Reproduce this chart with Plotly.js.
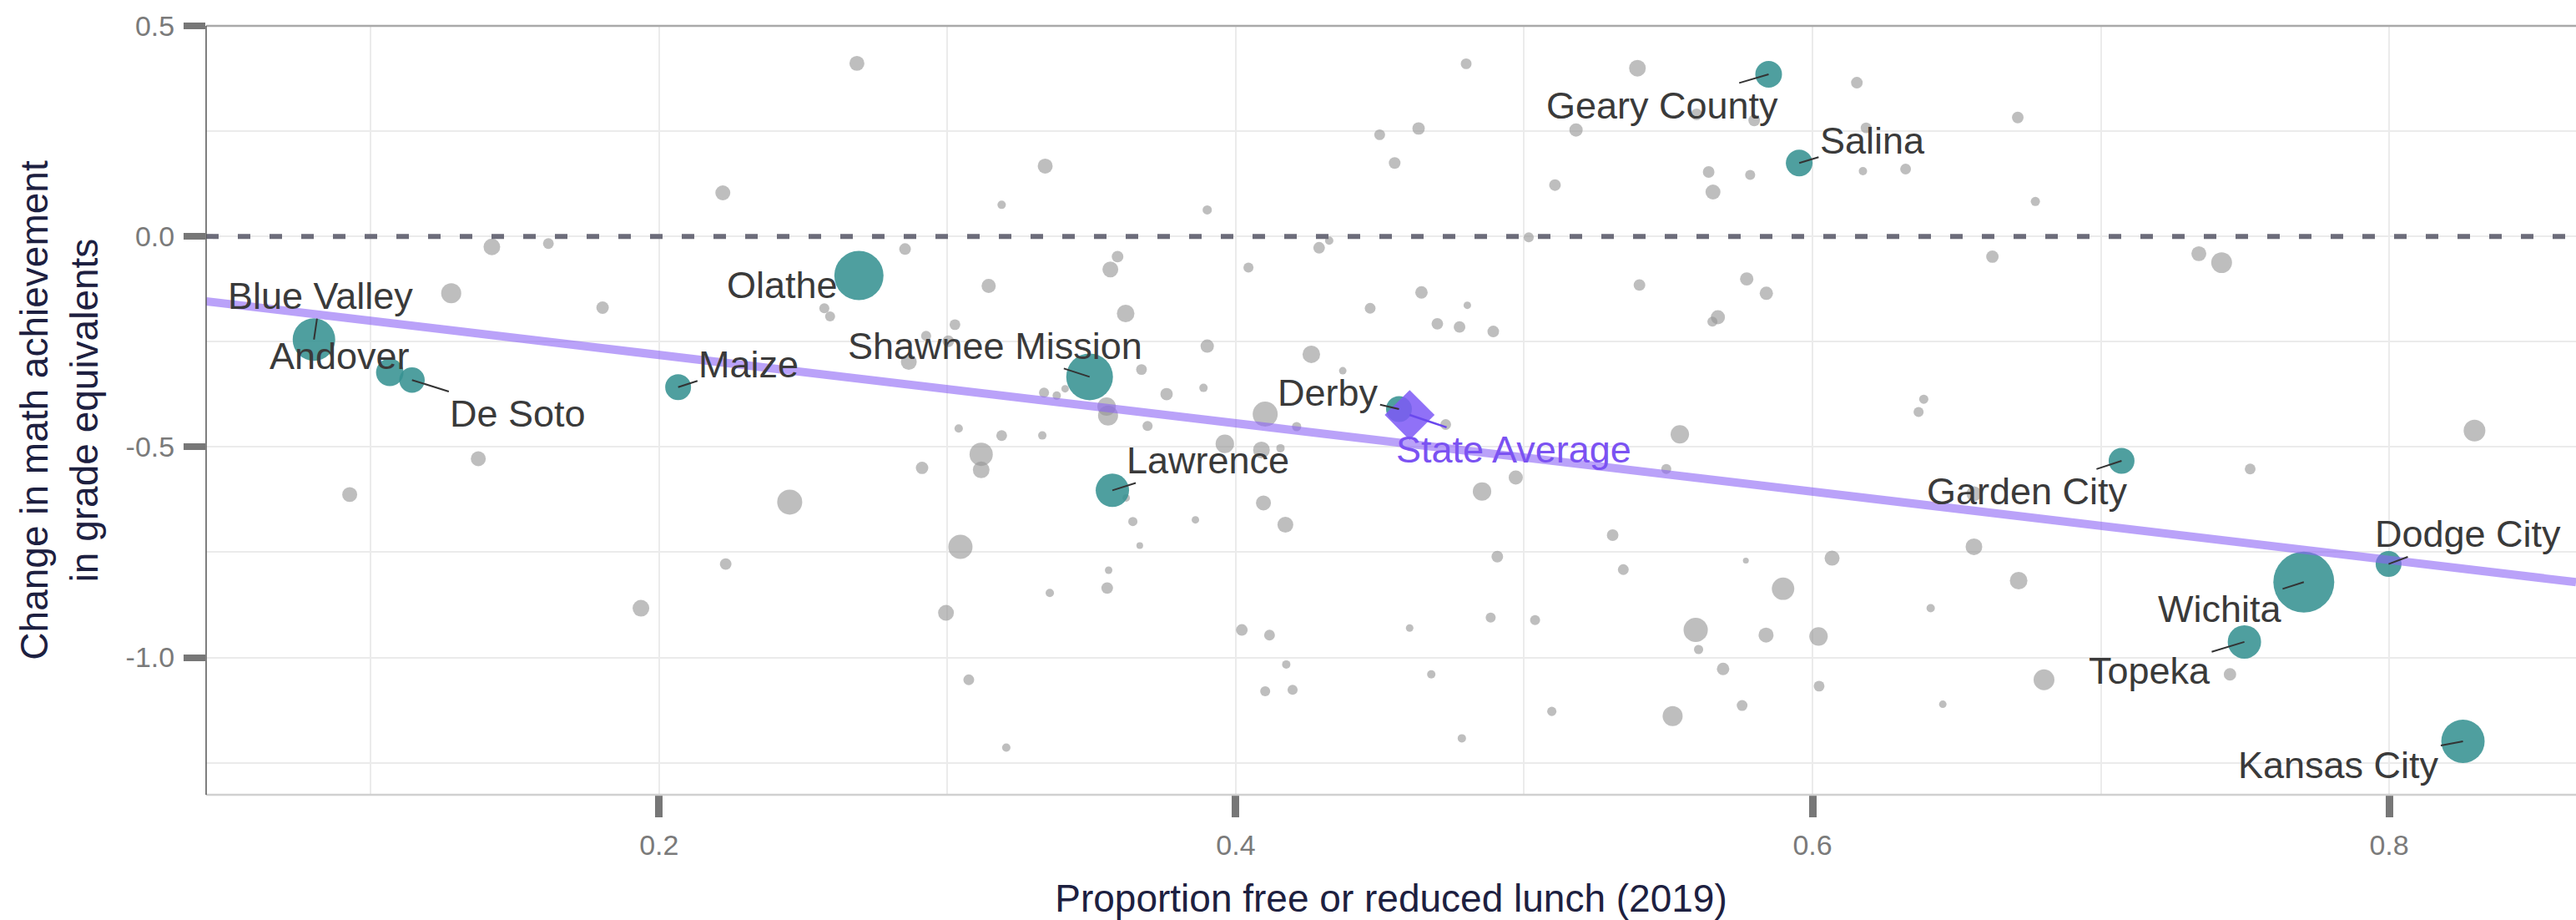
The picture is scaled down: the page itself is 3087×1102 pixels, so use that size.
<!DOCTYPE html>
<html>
<head>
<meta charset="utf-8">
<script src="https://cdn.plot.ly/plotly-3.0.1.min.js"></script>
<style>
  html, body { margin: 0; padding: 0; background: #ffffff; }
  #chart { width: 3087px; height: 1102px; }
</style>
</head>
<body>
<div id="chart"></div>
<script>
// ---------------- DATA ----------------
// Other districts (grey): proportion free/reduced lunch 2019, change in math (grade equivalents), enrollment
var otherFrl = [
  0.142, 0.1616, 0.1279, 0.1804, 0.1373, 0.0927, 0.1937, 0.2686, 0.2221, 0.3339,
  0.3188, 0.3901, 0.2853, 0.359, 0.3565, 0.4044, 0.4289, 0.4324, 0.3143, 0.2573,
  0.2593, 0.3618, 0.3026, 0.3901, 0.4262, 0.2866, 0.3673, 0.376, 0.3888, 0.3335,
  0.3379, 0.3408, 0.3552, 0.3557, 0.4102, 0.4211, 0.3694, 0.3039, 0.3188, 0.3329,
  0.3117, 0.3117, 0.2912, 0.3962, 0.4089, 0.4155, 0.362, 0.2453, 0.4096, 0.4172,
  0.3643, 0.386, 0.3667, 0.3045, 0.2231, 0.3559, 0.3554, 0.3355, 0.2995, 0.4021,
  0.4117, 0.4175, 0.3074, 0.4102, 0.4197, 0.3204, 0.4799, 0.5393, 0.6154, 0.4499,
  0.4634, 0.4551, 0.518, 0.5598, 0.5798, 0.6186, 0.564, 0.5784, 0.5655, 0.5107,
  0.6175, 0.6323, 0.5016, 0.6624, 0.4644, 0.4466, 0.4803, 0.4699, 0.4776, 0.4893,
  0.54, 0.5772, 0.584, 0.5672, 0.5653, 0.6386, 0.6368, 0.4371, 0.4728, 0.554,
  0.5493, 0.4971, 0.4854, 0.4603, 0.5307, 0.4907, 0.5344, 0.5769, 0.6068, 0.5898,
  0.656, 0.641, 0.4884, 0.5038, 0.5595, 0.5605, 0.5839, 0.6021, 0.4678, 0.569,
  0.6023, 0.5756, 0.5096, 0.5515, 0.6452, 0.4784, 0.6712, 0.6773, 0.734, 0.7419,
  0.8296, 0.7518, 0.656, 0.6715, 0.6803, 0.7448, 0.2926, 0.3003
];
var otherChange = [
  -0.025, -0.017, -0.135, -0.169, -0.528, -0.613, -0.883, 0.411, 0.1035, 0.167,
  0.075, 0.063, -0.030, -0.048, -0.0785, -0.074, -0.027, -0.010, -0.1175, -0.1706,
  -0.19, -0.183, -0.2095, -0.2605, -0.280, -0.298, -0.316, -0.3745, -0.3597, -0.371,
  -0.378, -0.3617, -0.404, -0.4255, -0.422, -0.4517, -0.450, -0.456, -0.473, -0.4727,
  -0.5175, -0.5545, -0.5496, -0.4926, -0.507, -0.503, -0.621, -0.631, -0.633, -0.6846,
  -0.677, -0.673, -0.734, -0.737, -0.778, -0.7926, -0.835, -0.8466, -0.894, -0.9346,
  -0.9467, -1.0165, -1.053, -1.080, -1.0767, -1.214, 0.410, 0.3995, 0.365, 0.2415,
  0.2564, 0.1743, 0.2528, 0.2897, 0.2755, 0.2578, 0.153, 0.146, 0.1055, 0.122,
  0.155, 0.160, -0.002, -0.048, -0.133, -0.1706, -0.1635, -0.2075, -0.215, -0.2258,
  -0.1154, -0.101, -0.135, -0.192, -0.2025, -0.3866, -0.417, -0.319, -0.4467, -0.470,
  -0.5523, -0.5724, -0.6057, -0.930, -0.7094, -0.7605, -0.7912, -0.7698, -0.764, -0.8366,
  -0.737, -0.883, -0.905, -0.911, -0.9346, -0.981, -0.9467, -0.950, -1.040, -1.027,
  -1.068, -1.114, -1.128, -1.139, -1.111, -1.192, 0.2825, 0.083, -0.041, -0.0623,
  -0.461, -0.5523, -0.611, -0.8174, -1.053, -1.040, -0.236, -0.249
];
var otherEnroll = [
  3600, 1500, 5200, 2000, 2900, 2900, 3600, 2900, 2900, 2900,
  900, 1100, 1750, 1750, 3250, 1300, 1750, 900, 2600, 1300,
  1300, 4000, 1500, 2300, 4000, 3250, 1500, 2000, 900, 1300,
  900, 730, 4400, 5200, 8100, 1100, 1300, 900, 1500, 900,
  7000, 3600, 2000, 4400, 3600, 900, 730, 8100, 2900, 3250,
  1100, 730, 580, 7600, 1750, 730, 1750, 900, 3250, 1750,
  1500, 900, 1500, 1300, 1300, 900, 1500, 3600, 1750, 1500,
  2000, 1750, 2300, 1750, 1750, 1500, 1750, 1300, 2900, 1750,
  900, 1500, 1300, 2000, 2000, 1500, 730, 1750, 1750, 1750,
  1750, 2300, 2300, 2600, 1300, 1100, 1300, 730, 1500, 4400,
  1300, 2600, 4400, 730, 1750, 1750, 1500, 450, 2900, 6500,
  3600, 900, 1300, 1300, 7600, 1100, 2900, 4400, 900, 2000,
  1500, 1500, 1100, 5200, 730, 900, 1750, 1100, 2900, 5600,
  6100, 1500, 2900, 4000, 5600, 2000, 1300, 1750
];

// Highlighted districts (teal)
var namedDistricts = [
  "Blue Valley", "Andover", "De Soto", "Maize", "Olathe", "Shawnee Mission",
  "Lawrence", "Derby", "Geary County", "Salina", "Garden City", "Wichita",
  "Dodge City", "Topeka", "Kansas City"
];
var namedFrl = [
  0.0803, 0.1066, 0.1143, 0.2066, 0.2693, 0.3493,
  0.3572, 0.4566, 0.5848, 0.5954, 0.7072, 0.7704,
  0.7998, 0.7498, 0.8256
];
var namedChange = [
  -0.245, -0.323, -0.341, -0.358, -0.093, -0.3335,
  -0.603, -0.410, 0.385, 0.1743, -0.533, -0.821,
  -0.778, -0.963, -1.199
];
var namedEnroll = [
  23400, 9800, 8400, 8650, 31300, 28200,
  14400, 8650, 9200, 9200, 8650, 48000,
  8650, 14400, 24300
];

// State average
var stateName = "State Average";
var stateFrl = [0.4603];
var stateChange = [-0.424];

// Fitted line (two end points across the panel)
var fitFrl = [0.0429, 0.8648];
var fitChange = [-0.154, -0.821];

// Reference line
var referenceChange = 0;

// Axis tick values and labels
var xTickVals = [0.2, 0.4, 0.6, 0.8];
var xTickText = ["0.2", "0.4", "0.6", "0.8"];
var yTickVals = [0.5, 0.0, -0.5, -1.0];
var yTickText = ["0.5", "0.0", "-0.5", "-1.0"];

// ---------------- LABEL PLACEMENT (text anchor points, data units) ----------------
var labelPlacement = {
  "Blue Valley":     {x: 0.0825, y: -0.1416, arrow: true},
  "Andover":         {x: 0.0891, y: -0.284,  arrow: false},
  "De Soto":         {x: 0.1511, y: -0.420,  arrow: true},
  "Maize":           {x: 0.2311, y: -0.3037, arrow: true},
  "Olathe":          {x: 0.2428, y: -0.1154, arrow: false},
  "Shawnee Mission": {x: 0.3164, y: -0.260,  arrow: true},
  "Lawrence":        {x: 0.3902, y: -0.532,  arrow: true},
  "Derby":           {x: 0.4321, y: -0.3705, arrow: true},
  "Geary County":    {x: 0.548,  y: 0.3109,  arrow: true},
  "Salina":          {x: 0.6208, y: 0.2272,  arrow: true},
  "Garden City":     {x: 0.6746, y: -0.606,  arrow: true},
  "Wichita":         {x: 0.7412, y: -0.885,  arrow: true},
  "Dodge City":      {x: 0.8274, y: -0.7074, arrow: true},
  "Topeka":          {x: 0.7169, y: -1.0307, arrow: true},
  "Kansas City":     {x: 0.7826, y: -1.2558, arrow: true}
};
var stateLabelPlacement = {x: 0.4964, y: -0.507};

// ---------------- STYLE ----------------
var FONT = "Liberation Sans, Arial, Helvetica, sans-serif";
var SIZEREF = 18;
var greyFill = "rgba(150,150,150,0.62)";
var tealFill = "rgba(55,146,146,0.88)";
var purple = "rgba(126,90,246,0.86)";

var traces = [
  {
    type: "scatter", mode: "markers", name: "Other districts",
    x: otherFrl, y: otherChange,
    marker: {size: otherEnroll, sizemode: "area", sizeref: SIZEREF, color: greyFill, opacity: 1, line: {width: 0}},
    hoverinfo: "x+y", showlegend: false, cliponaxis: false
  },
  {
    type: "scatter", mode: "markers", name: "Highlighted districts",
    x: namedFrl, y: namedChange, text: namedDistricts,
    marker: {size: namedEnroll, sizemode: "area", sizeref: SIZEREF, color: tealFill, opacity: 1, line: {width: 0}},
    hoverinfo: "text+x+y", showlegend: false, cliponaxis: false
  },
  {
    type: "scatter", mode: "lines", name: "Fit",
    x: fitFrl, y: fitChange,
    line: {color: "rgba(140,100,245,0.6)", width: 10},
    hoverinfo: "skip", showlegend: false
  },
  {
    type: "scatter", mode: "markers", name: stateName,
    x: stateFrl, y: stateChange,
    marker: {symbol: "diamond", size: 46, color: purple, opacity: 1, line: {width: 0}},
    hoverinfo: "name+x+y", showlegend: false, cliponaxis: false
  }
];

var annotations = [];
namedDistricts.forEach(function (name, i) {
  var p = labelPlacement[name];
  var a = {
    text: name,
    font: {family: FONT, size: 45, color: "#3a3a3a"},
    showarrow: p.arrow
  };
  if (p.arrow) {
    a.x = namedFrl[i]; a.y = namedChange[i]; a.xref = "x"; a.yref = "y";
    a.ax = p.x; a.ay = p.y; a.axref = "x"; a.ayref = "y";
    a.arrowhead = 0; a.arrowwidth = 2; a.arrowcolor = "#333333"; a.standoff = 0; a.startstandoff = 0;
  } else {
    a.x = p.x; a.y = p.y; a.xref = "x"; a.yref = "y";
    a.xanchor = "center"; a.yanchor = "middle";
  }
  annotations.push(a);
});
annotations.push({
  text: stateName,
  font: {family: FONT, size: 45, color: "#7b52f2"},
  x: stateFrl[0], y: stateChange[0], xref: "x", yref: "y",
  ax: stateLabelPlacement.x, ay: stateLabelPlacement.y, axref: "x", ayref: "y",
  showarrow: true, arrowhead: 0, arrowwidth: 2.5, arrowcolor: "#6a48ee", standoff: 0
});

var gridColor = "#ebebeb";
var layout = {
  width: 3087, height: 1102,
  margin: {l: 247, r: 0, t: 31, b: 150, pad: 0},
  paper_bgcolor: "#ffffff", plot_bgcolor: "#ffffff",
  showlegend: false,
  font: {family: FONT, color: "#777777"},
  xaxis: {
    range: [0.0429, 0.8648],
    tickmode: "array", tickvals: xTickVals, ticktext: xTickText,
    ticks: "outside", ticklen: 26, tickwidth: 9, tickcolor: "#777777",
    tickfont: {family: FONT, size: 34, color: "#7a7a7a"},
    ticklabelstandoff: 4,
    showgrid: true, gridcolor: gridColor, gridwidth: 2,
    minor: {dtick: 0.1, tick0: 0, showgrid: true, gridcolor: gridColor, gridwidth: 2, ticks: ""},
    zeroline: false, showline: false,
    title: {text: "Proportion free or reduced lunch (2019)", font: {family: FONT, size: 46, color: "#1d2040"}, standoff: 36},
    automargin: false
  },
  yaxis: {
    range: [-1.326, 0.5],
    tickmode: "array", tickvals: yTickVals, ticktext: yTickText,
    ticks: "outside", ticklen: 26, tickwidth: 8, tickcolor: "#777777",
    tickfont: {family: FONT, size: 34, color: "#7a7a7a"},
    ticklabelstandoff: 4,
    showgrid: true, gridcolor: gridColor, gridwidth: 2,
    minor: {dtick: 0.25, tick0: 0, showgrid: true, gridcolor: gridColor, gridwidth: 2, ticks: ""},
    zeroline: false, showline: false,
    title: {text: "Change in math achievement<br>in grade equivalents", font: {family: FONT, size: 46, color: "#1d2040"}, standoff: 18},
    automargin: false
  },
  shapes: [
    {type: "line", xref: "paper", yref: "y", x0: 0, x1: 1, y0: referenceChange, y1: referenceChange,
     line: {color: "#6c6c7a", width: 6, dash: "15px,23px"}, layer: "above"},
    {type: "line", xref: "paper", yref: "paper", x0: 0, x1: 1, y0: 1, y1: 1,
     line: {color: "#a9a9a9", width: 2.5}, layer: "above"},
    {type: "line", xref: "paper", yref: "paper", x0: 0, x1: 1, y0: 0, y1: 0,
     line: {color: "#d0d0d0", width: 2.5}, layer: "above"},
    {type: "line", xref: "paper", yref: "paper", x0: 0, x1: 0, y0: 0, y1: 1,
     line: {color: "#555555", width: 1.5}, layer: "above"}
  ],
  annotations: annotations
};

Plotly.newPlot("chart", traces, layout, {displayModeBar: false, staticPlot: true});
</script>
</body>
</html>
